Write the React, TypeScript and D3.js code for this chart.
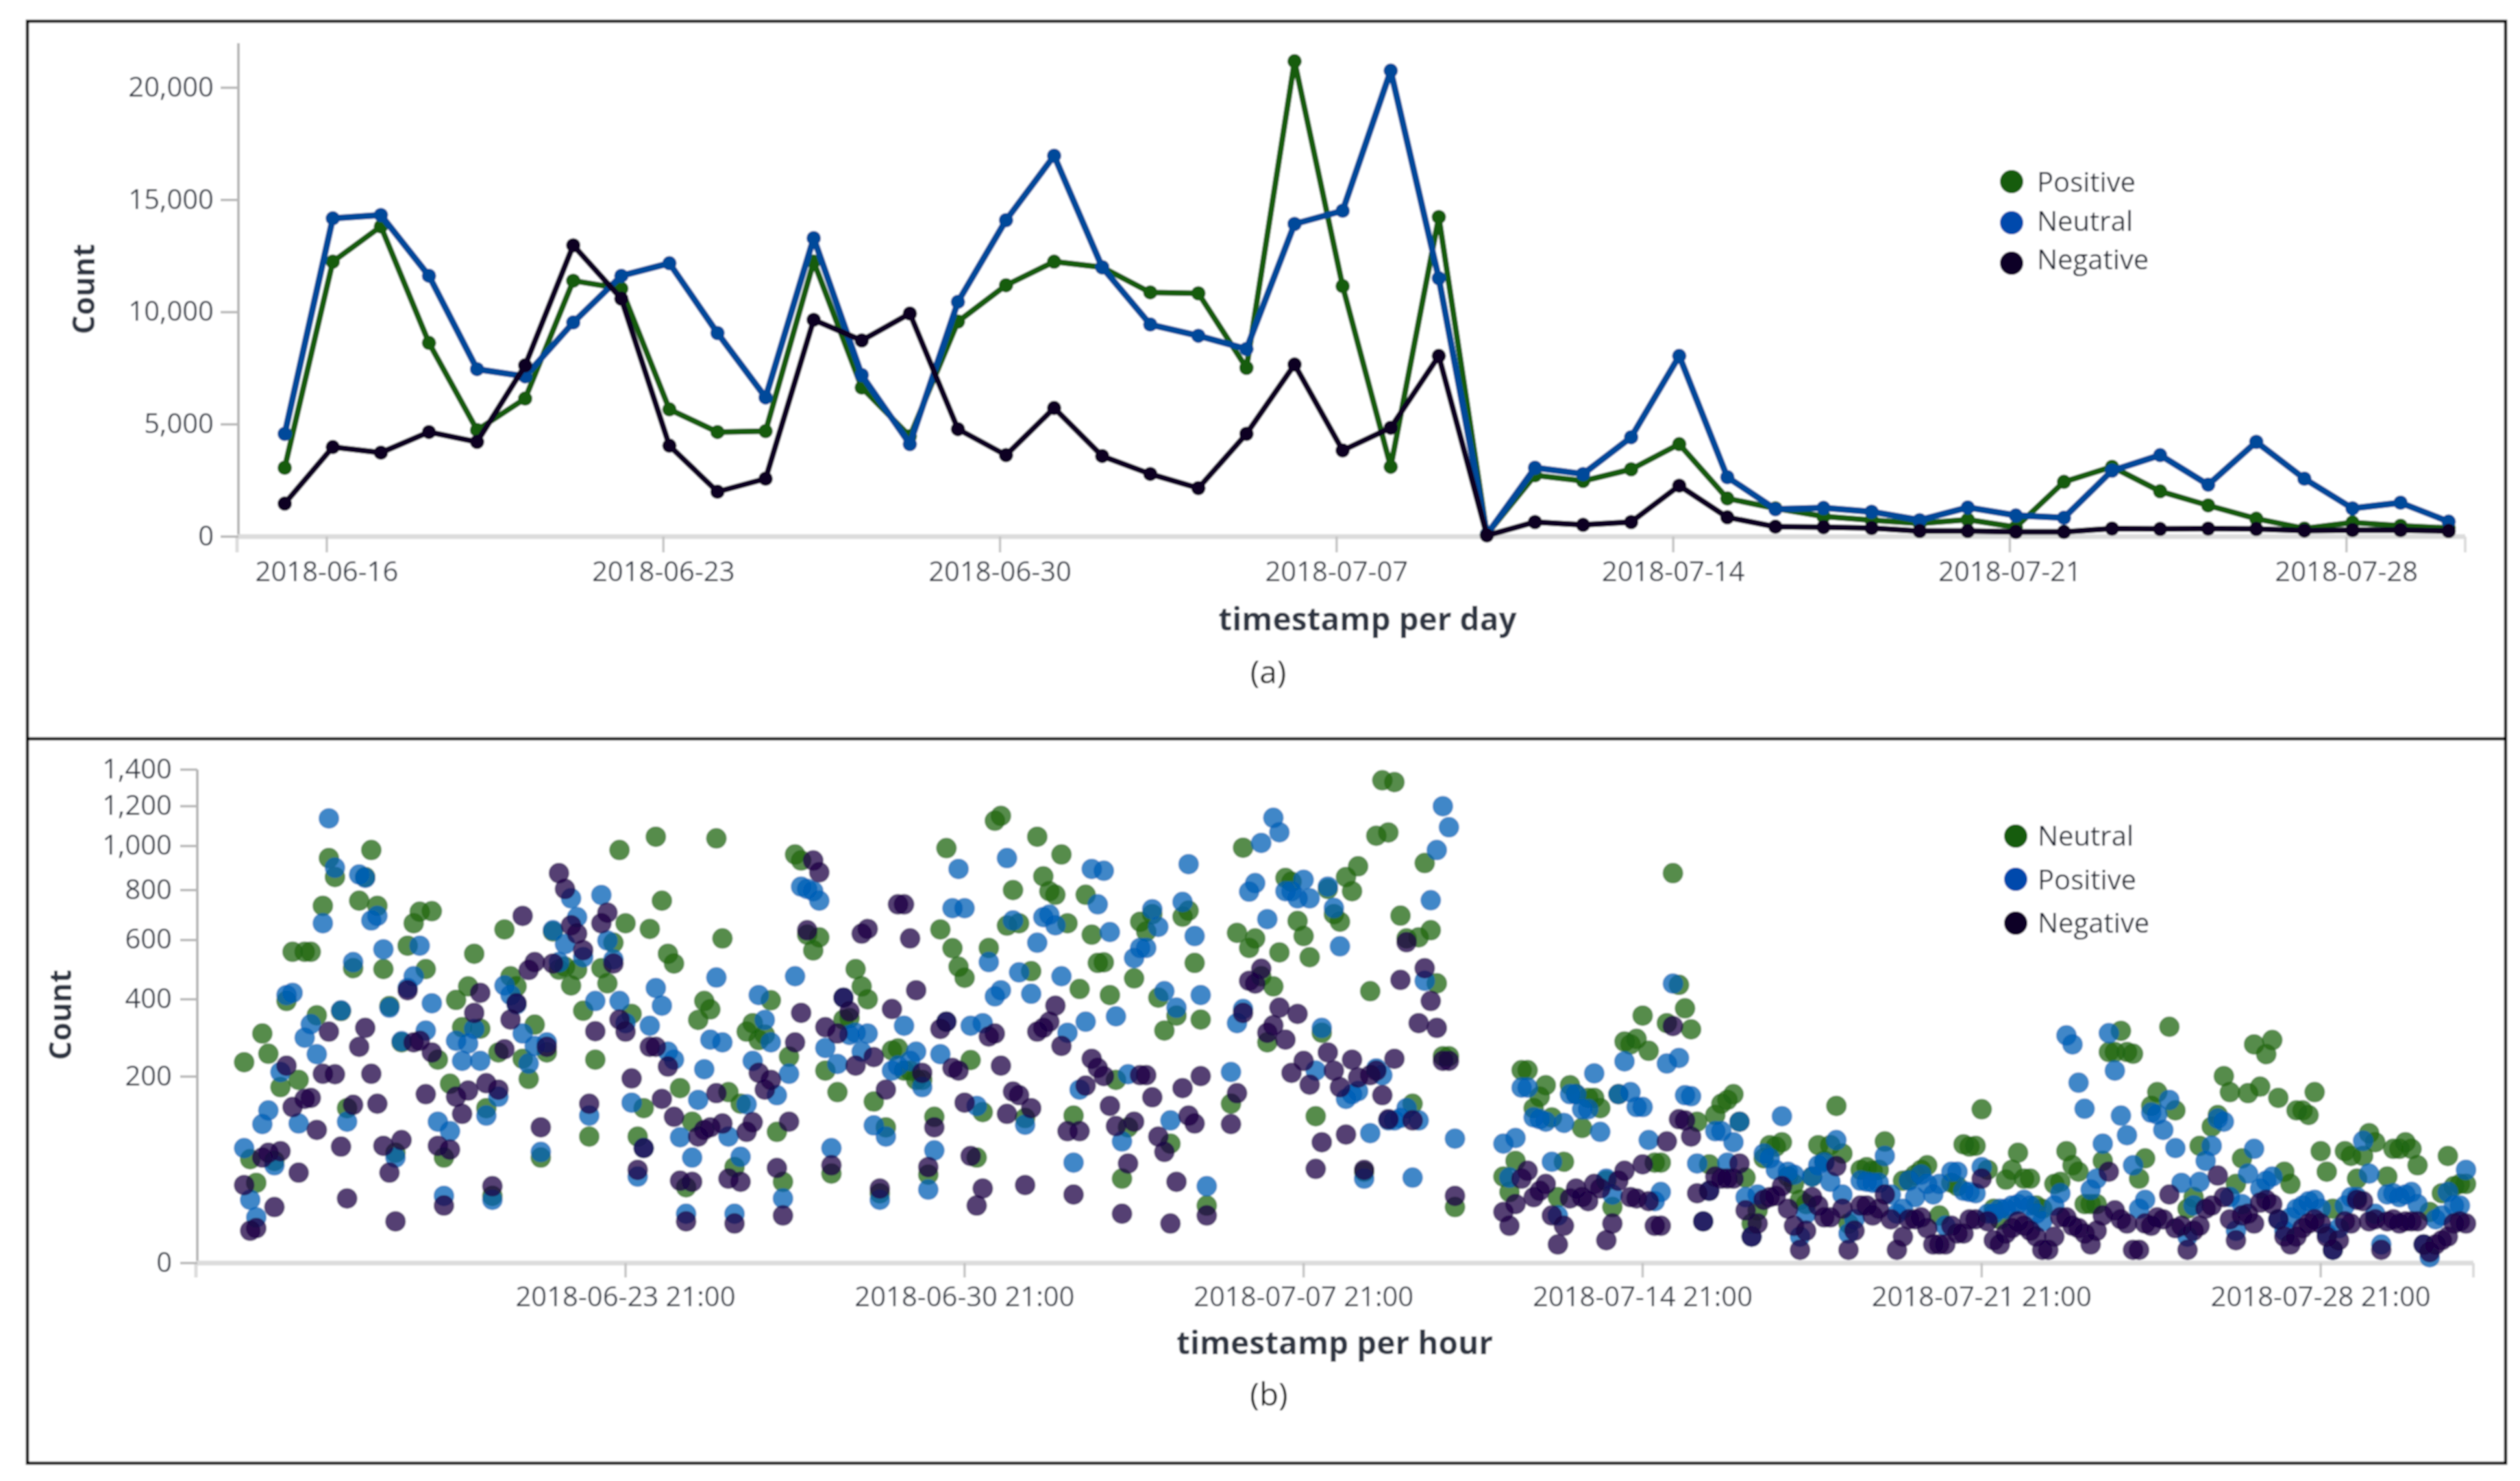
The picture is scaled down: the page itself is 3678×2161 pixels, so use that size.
import React from "react";
import * as d3 from "d3";

type V = number | null;
const _ = null;

// ---- (a) daily counts, 2018-06-15 .. 2018-07-30 ----
const dailyStart = Date.UTC(2018, 5, 15, 3);
const dailyPositive = [3070, 12250, 13820, 8630, 4750, 6150, 11400, 11050, 5670, 4660, 4700, 12250, 6640, 4470, 9580, 11200, 12250, 12000, 10880, 10840, 7520, 21180, 11160, 3110, 14240, 100, 2730, 2480, 3000, 4120, 1700, 1260, 900, 735, 590, 756, 420, 2440, 3110, 2020, 1390, 800, 360, 630, 480, 380];
const dailyNeutral = [4580, 14180, 14330, 11620, 7460, 7140, 9540, 11620, 12180, 9070, 6200, 13300, 7200, 4120, 10460, 14100, 16970, 12000, 9450, 8950, 8360, 13930, 14520, 20760, 11510, 100, 3070, 2790, 4430, 8050, 2650, 1220, 1280, 1110, 735, 1300, 945, 840, 2940, 3630, 2310, 4220, 2580, 1260, 1510, 670];
const dailyNegative = [1470, 3990, 3740, 4660, 4220, 7630, 12980, 10600, 4050, 2000, 2580, 9660, 8740, 9940, 4790, 3630, 5730, 3590, 2790, 2160, 4580, 7670, 3840, 4850, 8050, 50, 650, 525, 650, 2270, 860, 440, 420, 380, 250, 250, 210, 210, 360, 340, 360, 340, 270, 290, 290, 250];
const dailyYTicks = [0, 5000, 10000, 15000, 20000];
const dailyXTicks = ["2018-06-16", "2018-06-23", "2018-06-30", "2018-07-07", "2018-07-14", "2018-07-21", "2018-07-28"];

// ---- (b) three-hourly counts, from 2018-06-16 00:00 ----
const hourlyStart = Date.UTC(2018, 5, 16, 0);
const hourlyNeutral: V[] = [
  232, 62, 37, 303, 252, 60, 178, 395, 557, 193,
  557, 557, 353, 734, 943, 857, 365, 138, 500, 755,
  857, 981, 734, 497, 380, 70, 280, 579, 664, 710,
  497, 712, 238, 64, 185, 398, 320, 440, 550, 316,
  138, 26, 255, 640, 473, 440, 240, 195, 327, 64,
  255, 632, 495, 505, 443, 495, 366, 92, 238, 500,
  450, 590, 981, 664, 357, 92, 138, 642, 1045, 755,
  550, 516, 176, 33, 115, 340, 395, 370, 1037, 606,
  168, 53, 146, 308, 331, 286, 300, 397, 99, 38,
  245, 960, 932, 620, 562, 610, 213, 46, 168, 341,
  345, 497, 440, 400, 150, 28, 106, 260, 265, 213,
  213, 193, 193, 45, 123, 640, 990, 570, 505, 468,
  237, 64, 131, 571, 1125, 1150, 655, 800, 664, 121,
  490, 1045, 860, 795, 780, 960, 664, 125, 432, 780,
  620, 518, 520, 413, 193, 41, 106, 466, 670, 632,
  700, 405, 311, 82, 352, 690, 714, 518, 341, 19,
  _, _, _, 146, 627, 992, 571, 606, 473, 280,
  440, 555, 853, 836, 673, 615, 538, 124, 305, 805,
  700, 670, 857, 795, 905, 48, 425, 1050, 1340, 1066,
  1330, 694, 606, 146, 610, 920, 637, 450, 246, 246,
  18, _, _, _, _, _, _, _, 43, 29,
  60, 214, 214, 138, 159, 182, 122, 25, 59, 182,
  164, 105, 157, 157, 138, 39, 18, 164, 282, 275,
  289, 352, 259, 58, 58, 331, 874, 445, 373, 314,
  115, _, 56, 126, 146, 153, 164, 115, 42, 9,
  16, 63, 80, 78, 84, 43, 36, 23, 20, 43,
  80, 60, 80, 142, 69, 9, _, 50, 53, 49,
  50, 85, _, _, 39, 40, 45, 50, 55, _,
  13, _, 37, 34, 81, 78, 79, 136, 50, 17,
  11, 40, 50, 70, 41, 41, 19, 17, _, 36,
  38, 72, 55, 48, 20, 20, 20, 60, 256, 256,
  310, 256, 252, 41, 63, 142, 168, _, 321, 134,
  _, 17, 25, 79, _, 107, 126, 201, 168, 36,
  63, 166, 275, 179, 251, 286, 157, 48, 36, 134,
  134, 126, 168, 72, 48, 17, _, 72, 66, 41,
  66, 97, 84, _, 43, 75, 75, 84, 75, 55,
  _, 15, _, 28, 66, 34, 36, 36,
];
const hourlyPositive: V[] = [
  76, 23, 12, 111, 134, 55, 210, 413, 420, 112,
  292, 328, 251, 664, 1137, 899, 367, 115, 521, 868,
  853, 675, 693, 566, 375, 64, 283, 435, 473, 579,
  311, 388, 115, 26, 100, 284, 235, 277, 315, 235,
  125, 23, 159, 443, 413, 385, 303, 229, 271, 71,
  280, 637, 521, 585, 765, 688, 538, 125, 395, 779,
  598, 530, 395, 331, 148, 43, 76, 324, 435, 381,
  257, 238, 91, 14, 64, 153, 216, 287, 469, 280,
  92, 14, 65, 145, 235, 413, 340, 280, 162, 24,
  206, 473, 815, 805, 795, 755, 266, 76, 228, 405,
  299, 305, 257, 303, 109, 23, 92, 213, 224, 324,
  235, 257, 178, 31, 73, 251, 335, 724, 893, 724,
  324, 142, 331, 521, 409, 428, 943, 675, 486, 110,
  417, 590, 688, 698, 656, 473, 305, 58, 173, 335,
  893, 740, 885, 630, 350, 85, 205, 535, 571, 571,
  720, 650, 425, 117, 375, 750, 915, 615, 413, 34,
  _, _, _, 210, 331, 371, 793, 830, 1015, 680,
  1140, 1067, 795, 795, 765, 845, 765, 213, 318, 815,
  725, 577, 155, 164, 170, 41, 97, 218, 203, 117,
  117, 121, 138, 42, 117, 458, 757, 981, 1200, 1092,
  89, _, _, _, _, _, _, _, 82, 42,
  90, 177, 177, 122, 119, 115, 59, 13, 113, 164,
  164, 136, 136, 207, 99, 41, 27, 164, 234, 168,
  140, 140, 87, 22, 29, 229, 449, 242, 162, 160,
  57, 10, 30, 100, 100, 58, 84, 115, 25, 4,
  27, 69, 63, 50, 124, 48, 45, 4, 14, 43,
  55, 58, 38, 87, 27, 5, 11, 39, 38, 37,
  37, 66, 27, 14, 17, 39, 25, 45, 36, 27,
  36, 8, 48, 48, 30, 29, 28, 53, 14, 14,
  17, 17, 19, 20, 23, 19, 14, 10, _, 19,
  28, 298, 275, 187, 137, 31, 41, 82, 304, 213,
  125, 94, 55, 17, 23, 130, 127, 102, 153, 76,
  37, 4, 19, 38, 60, 79, 120, 115, 25, 6,
  20, 46, 75, 32, 39, 43, 11, 6, 12, 17,
  19, 22, 23, 17, 5, 1, 7, 19, 25, 25,
  86, 46, 14, 2, 27, 28, 25, 27, 29, 20,
  2, 0.2, 11, 13, 29, 19, 19, 50,
];
const hourlyNegative: V[] = [
  35, 6, 7, 64, 70, 18, 72, 224, 140, 47,
  155, 157, 102, 206, 308, 205, 78, 24, 144, 269,
  318, 206, 146, 79, 47, 10, 87, 428, 280, 284,
  164, 255, 79, 19, 74, 159, 128, 171, 360, 420,
  186, 34, 173, 263, 341, 388, 693, 494, 521, 106,
  269, 516, 874, 805, 656, 624, 563, 146, 309, 664,
  706, 516, 341, 308, 196, 50, 76, 269, 269, 155,
  222, 123, 39, 10, 38, 92, 102, 106, 166, 112,
  41, 9, 38, 99, 114, 208, 173, 193, 52, 13,
  115, 280, 360, 637, 932, 878, 320, 55, 303, 405,
  364, 224, 624, 642, 244, 32, 173, 371, 740, 740,
  606, 428, 208, 53, 106, 315, 335, 219, 213, 148,
  66, 19, 32, 295, 303, 224, 128, 169, 162, 35,
  138, 308, 318, 335, 381, 271, 100, 27, 100, 181,
  240, 219, 201, 142, 108, 14, 57, 115, 203, 203,
  158, 92, 71, 9, 38, 176, 125, 112, 201, 13,
  _, _, _, 111, 166, 360, 458, 449, 498, 305,
  325, 375, 287, 208, 357, 235, 183, 51, 84, 255,
  213, 178, 95, 238, 198, 50, 203, 213, 162, 119,
  240, 461, 592, 117, 331, 500, 395, 318, 235, 235,
  26, _, _, _, _, _, _, _, 15, 8,
  20, 41, 49, 25, 30, 36, 13, 2, 8, 24,
  32, 25, 22, 36, 32, 3, 9, 39, 49, 25,
  24, 56, 22, 8, 8, 85, 323, 119, 117, 92,
  28, 10, 30, 43, 41, 41, 41, 57, 16, 4,
  9, 23, 25, 26, 34, 17, 8, 1, 6, 25,
  19, 12, 12, 54, 17, 1, 6, 19, 19, 13,
  17, 27, 11, 1, 4, 11, 11, 12, 7, 2,
  2, 2, 8, 5, 5, 11, 11, 41, 10, 3,
  2, 5, 7, 10, 8, 6, 4, 1, 1, 4,
  12, 12, 8, 7, 5, 2, 6, 13, 48, 16,
  11, 9, 1, 1, 9, 8, 12, 11, 27, 7,
  8, 1, 6, 8, 17, 19, 44, 25, 11, 3,
  13, 14, 9, 21, 23, 20, 11, 4, 2, 4,
  7, 9, 11, 9, 4, 1, 3, 10, 9, 23,
  22, 10, 11, 1, 10, 11, 9, 10, 10, 10,
  2, 0.7, 2, 3, 4, 9, 10, 9,
];
const hourlyYTicks = [0, 200, 400, 600, 800, 1000, 1200, 1400];
const hourlyXTicks = ["2018-06-23 21:00", "2018-06-30 21:00", "2018-07-07 21:00", "2018-07-14 21:00", "2018-07-21 21:00", "2018-07-28 21:00"];

const parseDay = (s: string) => Date.parse(s + "T00:00:00Z");
const parseHour = (s: string) => Date.parse(s.replace(" ", "T") + ":00Z");
const HOUR = 3600e3;
const DAY = 24 * HOUR;

const FONT = "'Open Sans', sans-serif";
const TEXT = "#2e3542";
const AXIS = "#b8b8b8";
const BASE = "#dcdcdc";
const fmt = d3.format(",");

const xA = d3.scaleTime().domain([Date.UTC(2018, 5, 14, 3, 54), Date.UTC(2018, 6, 30, 11, 15)]).range([348, 3598]);
const yA = d3.scaleLinear().domain([0, 22000]).range([783, 62.5]);
const xB = d3.scaleTime().domain([Date.UTC(2018, 5, 15, 1), Date.UTC(2018, 7, 1, 0, 40)]).range([288.6, 3610]);
const yB = d3.scaleSqrt().domain([0, 1400]).range([1843, 1123]);

const lineSeries = [
  { name: "Positive", values: dailyPositive, color: "#175c0c", width: 8.5 },
  { name: "Neutral", values: dailyNeutral, color: "#044a9a", width: 9.5 },
  { name: "Negative", values: dailyNegative, color: "#0b0222", width: 8.5 },
];
const dotSeries = [
  { name: "Neutral", values: hourlyNeutral, fill: "#1f6510", legend: "#125c0c" },
  { name: "Positive", values: hourlyPositive, fill: "#005fb5", legend: "#0648ac" },
  { name: "Negative", values: hourlyNegative, fill: "#1c0244", legend: "#100226" },
];

const lineGen = d3
  .line<number>()
  .x((_v, i) => xA(dailyStart + i * DAY))
  .y((v) => yA(v));

function Axes(p: {
  x0: number; x1: number; y0: number; yTop: number; tickLeft: number; labelRight: number;
  yTicks: number[]; yScale: (v: number) => number; xTicks: { label: string; x: number }[]; tickY: number; labelY: number;
}) {
  return (
    <g fontFamily={FONT} fill={TEXT}>
      <line x1={p.x0} x2={p.x0} y1={p.yTop} y2={p.y0} stroke={AXIS} strokeWidth={4} />
      <line x1={p.x0 - 2} x2={p.x1} y1={p.y0} y2={p.y0} stroke={BASE} strokeWidth={7} />
      <line x1={p.x0 - 2} x2={p.x0 - 2} y1={p.y0} y2={p.tickY} stroke={BASE} strokeWidth={5} />
      <line x1={p.x1} x2={p.x1} y1={p.y0} y2={p.tickY} stroke={BASE} strokeWidth={4} />
      {p.yTicks.map((t) => (
        <g key={t}>
          <line x1={p.tickLeft} x2={p.x0} y1={p.yScale(t)} y2={p.yScale(t)} stroke={AXIS} strokeWidth={3.5} />
          <text x={p.labelRight} y={p.yScale(t)} dy="0.32em" textAnchor="end" fontSize={40}>{fmt(t)}</text>
        </g>
      ))}
      {p.xTicks.map((t) => (
        <g key={t.label}>
          <line x1={t.x} x2={t.x} y1={p.y0} y2={p.tickY} stroke="#c4c4c4" strokeWidth={3.5} />
          <text x={t.x} y={p.labelY} dy="0.36em" textAnchor="middle" fontSize={40}>{t.label}</text>
        </g>
      ))}
    </g>
  );
}

function Legend(p: { x: number; tx: number; items: { name: string; color: string; y: number; ty: number }[] }) {
  return (
    <g fontFamily={FONT}>
      {p.items.map((it) => (
        <g key={it.name}>
          <circle cx={p.x} cy={it.y} r={17} fill={it.color} />
          <text x={p.tx} y={it.ty} dy="0.36em" fontSize={40} fill="#1d2330">{it.name}</text>
        </g>
      ))}
    </g>
  );
}

export default function App() {
  return (
    <svg width={3678} height={2161} viewBox="0 0 3678 2161" style={{ position: "absolute", left: 0, top: 0, background: "#fff" }}>
      <defs>
        <filter id="soft" x="0" y="0" width="100%" height="100%" filterUnits="userSpaceOnUse" primitiveUnits="userSpaceOnUse">
          <feGaussianBlur stdDeviation={0.9} />
        </filter>
      </defs>
      <g filter="url(#soft)">
      <rect x={0} y={0} width={3678} height={2161} fill="#fff" />
      <rect x={40} y={31} width={3617} height={2104} fill="none" stroke="#000" strokeWidth={4.5} />
      <line x1={40} x2={3657} y1={1078} y2={1078} stroke="#000" strokeWidth={4.5} />

      {/* (a) */}
      <Axes x0={348} x1={3598} y0={783} yTop={63} tickLeft={322} labelRight={312}
        yTicks={dailyYTicks} yScale={yA} tickY={806} labelY={834}
        xTicks={dailyXTicks.map((d) => ({ label: d, x: xA(parseDay(d)) }))} />
      {lineSeries.map((s) => (
        <g key={s.name}>
          <path d={lineGen(s.values) ?? ""} fill="none" stroke={s.color} strokeWidth={s.width} strokeLinejoin="round" />
          {s.values.map((v, i) => (
            <circle key={i} cx={xA(dailyStart + i * DAY)} cy={yA(v)} r={10.5} fill={s.color} />
          ))}
        </g>
      ))}
      <text x={122} y={422} transform="rotate(-90 122 422)" textAnchor="middle" dy="0.36em" fontFamily={FONT} fontWeight={700} fontSize={44} fill={TEXT}>Count</text>
      <text x={1996} y={903} textAnchor="middle" dy="0.36em" fontFamily={FONT} fontWeight={700} fontSize={46} fill={TEXT}>timestamp per day</text>
      <text x={1851} y={980} textAnchor="middle" dy="0.36em" fontFamily={FONT} fontSize={46} fill="#111">(a)</text>
      <Legend x={2936} tx={2973} items={[
        { name: lineSeries[0].name, color: "#125c0c", y: 265, ty: 266 },
        { name: lineSeries[1].name, color: "#0648ac", y: 325, ty: 323 },
        { name: lineSeries[2].name, color: "#100226", y: 384, ty: 379 },
      ]} />

      {/* (b) */}
      <Axes x0={288} x1={3610} y0={1843} yTop={1123} tickLeft={263} labelRight={251}
        yTicks={hourlyYTicks} yScale={yB} tickY={1864} labelY={1892}
        xTicks={hourlyXTicks.map((d) => ({ label: d, x: xB(parseHour(d)) }))} />
      {dotSeries.map((s) => (
        <g key={s.name} fill={s.fill} fillOpacity={0.75}>
          {s.values.map((v, i) =>
            v === null ? null : <circle key={i} cx={xB(hourlyStart + i * 3 * HOUR)} cy={yB(v)} r={15} />
          )}
        </g>
      ))}
      <text x={88} y={1481} transform="rotate(-90 88 1481)" textAnchor="middle" dy="0.36em" fontFamily={FONT} fontWeight={700} fontSize={44} fill={TEXT}>Count</text>
      <text x={1948} y={1959} textAnchor="middle" dy="0.36em" fontFamily={FONT} fontWeight={700} fontSize={46} fill={TEXT}>timestamp per hour</text>
      <text x={1852} y={2034} textAnchor="middle" dy="0.36em" fontFamily={FONT} fontSize={46} fill="#111">(b)</text>
      <Legend x={2942} tx={2974} items={[
        { name: dotSeries[0].name, color: dotSeries[0].legend, y: 1220, ty: 1220 },
        { name: dotSeries[1].name, color: dotSeries[1].legend, y: 1283, ty: 1284 },
        { name: dotSeries[2].name, color: dotSeries[2].legend, y: 1347, ty: 1347 },
      ]} />
      </g>
    </svg>
  );
}
